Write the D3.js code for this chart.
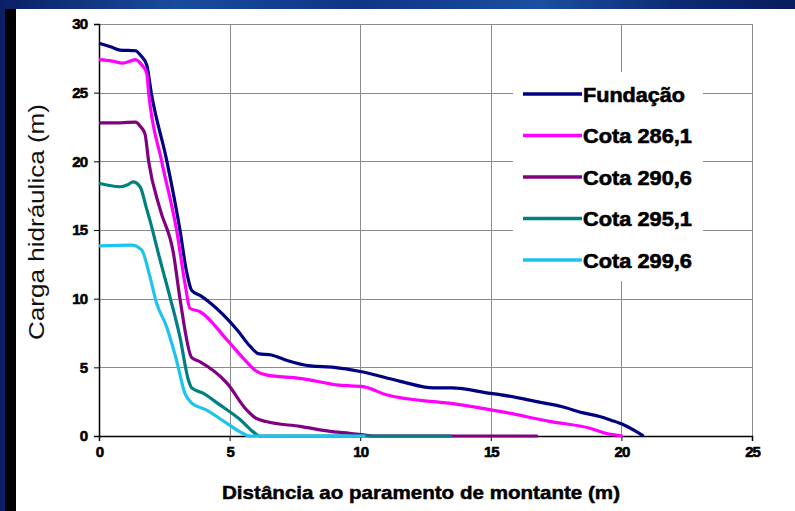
<!DOCTYPE html>
<html>
<head>
<meta charset="utf-8">
<script src="https://cdn.jsdelivr.net/npm/d3@7"></script>
<style>
  html, body { margin: 0; padding: 0; }
  body {
    width: 795px; height: 511px; overflow: hidden;
    background: linear-gradient(90deg, #0a1f66 0%, #1a4c9c 22%, #0f3486 45%, #1b4f9f 68%, #0c2a74 85%, #091c5c 100%);
  }
  svg { display: block; }
</style>
</head>
<body>
<svg id="chart" width="795" height="511"></svg>
<script>
// Hydraulic head along the dam foundation and at several elevations
const seriesNames = ["Fundação", "Cota 286,1", "Cota 290,6", "Cota 295,1", "Cota 299,6"];
const seriesColors = ["#000080", "#ff00ff", "#800080", "#008080", "#1ec3ee"];

// [distance (m), head (m)]
const fundacao = [[0,28.6],[0.5,28.3],[0.8,28.1],[1.4,28.05],[1.6,27.7],[1.83,27.0],[2.0,25.0],[2.6,20.0],[3.1,15.0],[3.35,12.0],[3.55,10.6],[3.9,10.2],[4.25,9.7],[5.3,7.7],[5.8,6.5],[6.1,6.0],[6.6,5.9],[7.2,5.5],[8.1,5.1],[9.0,5.0],[10.0,4.7],[11.5,4.0],[12.8,3.5],[13.5,3.5],[15.0,3.1],[15.4,3.0],[16.9,2.45],[17.7,2.15],[18.5,1.7],[19.2,1.4],[19.6,1.15],[20.1,0.8],[20.85,0]];
const cota2861 = [[0,27.4],[0.5,27.3],[0.9,27.15],[1.4,27.4],[1.6,27.1],[1.83,26.4],[1.9,25.0],[2.4,20.0],[2.97,15.0],[3.3,11.0],[3.48,9.3],[3.87,9.05],[4.9,7.0],[5.6,5.5],[6.0,4.75],[6.4,4.45],[7.7,4.2],[9.2,3.7],[10.1,3.6],[11.0,3.0],[12.8,2.5],[13.4,2.4],[15.0,1.9],[15.4,1.77],[17.3,1.05],[18.8,0.56],[19.4,0.2],[20.05,0]];
const cota2906 = [[0,22.8],[0.5,22.8],[1.4,22.85],[1.6,22.5],[1.76,22.0],[1.9,20.0],[2.34,16.5],[2.85,13.3],[3.1,10.0],[3.55,5.7],[3.87,5.4],[4.9,3.85],[5.65,1.9],[6.0,1.3],[6.4,1.05],[7.7,0.7],[9.0,0.3],[9.6,0.2],[10.25,0.05],[10.5,0],[16.8,0]];
const cota2951 = [[0,18.4],[0.8,18.15],[1.1,18.3],[1.3,18.5],[1.57,18.15],[1.83,16.5],[1.95,15.7],[2.34,12.8],[2.72,10.1],[3.1,7.2],[3.42,4.1],[3.55,3.5],[4.0,3.1],[4.6,2.3],[5.4,1.2],[5.9,0.3],[6.15,0],[13.5,0]];
const cota2996 = [[0,13.85],[1.25,13.9],[1.63,13.55],[1.95,11.6],[2.2,9.7],[2.58,8.0],[2.97,5.5],[3.29,3.1],[3.55,2.4],[4.1,1.9],[4.9,0.92],[5.4,0.3],[5.8,0],[10.2,0]];
const seriesData = [fundacao, cota2861, cota2906, cota2951, cota2996];

const xTicks = [0, 5, 10, 15, 20, 25];
const yTicks = [0, 5, 10, 15, 20, 25, 30];
const xTitle = "Distância ao paramento de montante (m)";
const yTitle = "Carga hidráulica (m)";

const svg = d3.select("#chart");

// slide frame: black strip on the left, white panel
svg.append("rect").attr("x", 5).attr("y", 9).attr("width", 11).attr("height", 502).attr("fill", "#000");
svg.append("rect").attr("x", 16).attr("y", 9).attr("width", 779).attr("height", 502).attr("fill", "#fff");

const plot = { left: 99, right: 752, top: 24, bottom: 436 };
const x = d3.scaleLinear().domain([0, 25]).range([plot.left, plot.right]);
const y = d3.scaleLinear().domain([0, 30]).range([plot.bottom, plot.top]);

const tickFont = "'Liberation Sans', Arial, sans-serif";

// gridlines
const grid = svg.append("g").attr("stroke", "#8a8a8a").attr("stroke-width", 1);
grid.selectAll("line.gy").data(yTicks.filter(d => d > 0)).join("line")
  .attr("x1", plot.left).attr("x2", plot.right)
  .attr("y1", d => Math.round(y(d)) + 0.5).attr("y2", d => Math.round(y(d)) + 0.5);
grid.selectAll("line.gx").data(xTicks.filter(d => d > 0)).join("line")
  .attr("y1", plot.top).attr("y2", plot.bottom)
  .attr("x1", d => Math.round(x(d)) + 0.5).attr("x2", d => Math.round(x(d)) + 0.5);

// axes
const yAxis = svg.append("g").attr("transform", `translate(${plot.left},0)`)
  .call(d3.axisLeft(y).tickValues(yTicks).tickSize(5).tickPadding(7).tickFormat(d3.format("d")));
const xAxis = svg.append("g").attr("transform", `translate(0,${plot.bottom})`)
  .call(d3.axisBottom(x).tickValues(xTicks).tickSize(5).tickPadding(5).tickFormat(d3.format("d")));
[yAxis, xAxis].forEach(a => {
  a.select(".domain").attr("stroke", "#000").attr("stroke-width", 1.5);
  a.selectAll(".tick line").attr("stroke", "#000");
  a.selectAll(".tick text")
    .attr("fill", "#000")
    .style("font-family", tickFont)
    .style("font-weight", "bold")
    .style("font-size", "15px")
    .style("letter-spacing", "-1px")
    .attr("stroke", "#000").attr("stroke-width", 0.6);
});

// series lines
const line = d3.line().x(d => x(d[0])).y(d => y(d[1])).curve(d3.curveMonotoneX);
svg.append("g").selectAll("path").data(seriesData).join("path")
  .attr("d", line)
  .attr("fill", "none")
  .attr("stroke", (d, i) => seriesColors[i])
  .attr("stroke-width", 3.2)
  .attr("stroke-linejoin", "round");

// legend
const legend = svg.append("g");
legend.append("rect").attr("x", 513).attr("y", 72).attr("width", 190).attr("height", 209).attr("fill", "#fff");
const legendRows = legend.selectAll("g.row").data(seriesNames).join("g")
  .attr("transform", (d, i) => `translate(0,${94 + i * 41.5})`);
legendRows.append("line")
  .attr("x1", 523).attr("x2", 582).attr("y1", 0).attr("y2", 0)
  .attr("stroke", (d, i) => seriesColors[i]).attr("stroke-width", 3.5);
legendRows.append("text")
  .attr("x", 583).attr("y", 7.5)
  .attr("textLength", (d, i) => i === 0 ? 102 : 109)
  .attr("lengthAdjust", "spacingAndGlyphs")
  .style("font-family", tickFont).style("font-weight", "bold").style("font-size", "20px")
  .attr("stroke", "#000").attr("stroke-width", 0.6)
  .text(d => d);

// axis titles
svg.append("text")
  .attr("x", 421).attr("y", 499)
  .attr("text-anchor", "middle")
  .attr("textLength", 398).attr("lengthAdjust", "spacingAndGlyphs")
  .style("font-family", tickFont).style("font-weight", "bold").style("font-size", "19px")
  .attr("stroke", "#000").attr("stroke-width", 0.5)
  .text(xTitle);

svg.append("text")
  .attr("transform", "translate(44,222) rotate(-90)")
  .attr("text-anchor", "middle")
  .attr("textLength", 236).attr("lengthAdjust", "spacingAndGlyphs")
  .style("font-family", tickFont).style("font-size", "22px")
  .attr("fill", "#111")
  .text(yTitle);
</script>
</body>
</html>
